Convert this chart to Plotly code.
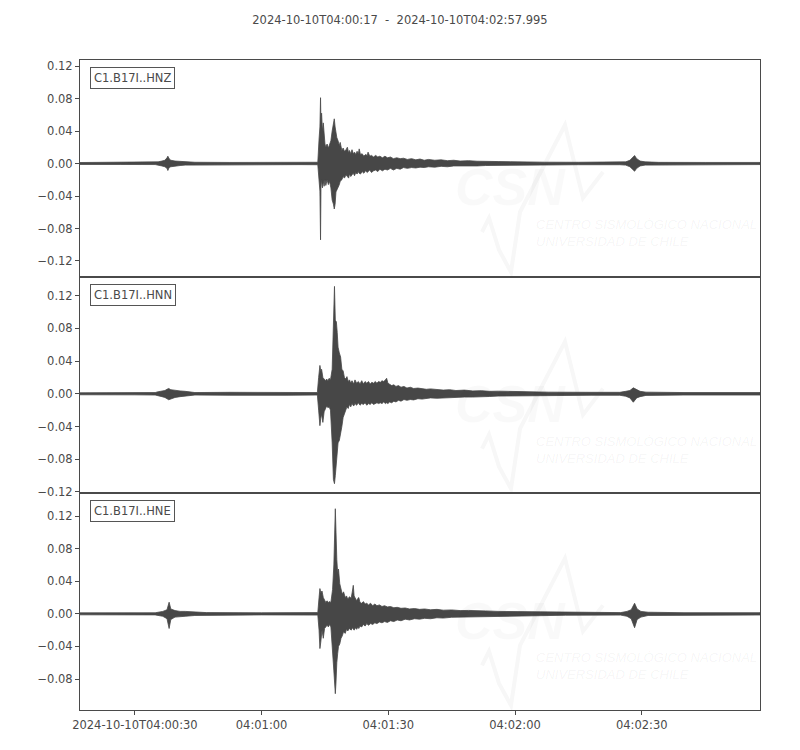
import pandas as pd
import plotly.graph_objects as go
from plotly.subplots import make_subplots

# ---- data (seconds after 2024-10-10T04:00:00, upper / lower envelope of each trace) ----
channels = ["C1.B17I..HNZ", "C1.B17I..HNN", "C1.B17I..HNE"]

t_hnz = [17.0, 26.5, 34.8, 35.5, 36.4, 37.1, 37.6, 37.8, 38.1, 38.5, 39.5, 40.7, 41.9, 44.2, 52.5, 59.6,
         69.1, 73.3, 73.6, 73.8, 73.95, 74.05, 74.2, 74.4, 74.6, 74.8, 75.0, 75.2, 75.5, 75.8, 76.1, 76.4,
         76.7, 77.0, 77.2, 77.4, 77.6, 77.8, 78.1, 78.4, 78.6, 79.0, 79.3, 79.6, 80.0, 80.3, 80.6, 80.8,
         81.1, 81.4, 81.7, 82.0, 82.3, 82.6, 82.9, 83.1, 83.4, 83.8, 84.2, 84.6, 85.0, 85.2, 85.6, 86.0,
         86.5, 87.0, 87.5, 88.0, 88.6, 89.2, 89.8, 90.5, 91.2, 92.0, 92.8, 93.6, 94.5, 95.5, 96.5, 97.5,
         98.5, 99.5, 101.0, 102.5, 104.0, 105.5, 107.0, 109.0, 111.0, 113.0, 116.0, 119.0, 122.0, 127.0,
         135.0, 144.8, 146.2, 147.2, 147.9, 148.3, 148.8, 149.6, 150.8, 154.0, 165.0, 177.995]
up_hnz = [0.0012, 0.0013, 0.0013, 0.002, 0.003, 0.004, 0.007, 0.009, 0.006, 0.004, 0.003, 0.0025, 0.002, 0.0015, 0.0013, 0.0013,
          0.0014, 0.0015, 0.03, 0.045, 0.081, 0.05, 0.062, 0.04, 0.05, 0.03, 0.024, 0.02, 0.024, 0.019, 0.023, 0.028,
          0.04, 0.05, 0.055, 0.045, 0.038, 0.032, 0.028, 0.022, 0.026, 0.016, 0.019, 0.015, 0.017, 0.020, 0.013, 0.016,
          0.012, 0.017, 0.012, 0.014, 0.011, 0.015, 0.012, 0.018, 0.011, 0.012, 0.009, 0.011, 0.010, 0.014, 0.009, 0.010,
          0.008, 0.010, 0.008, 0.009, 0.007, 0.009, 0.007, 0.008, 0.006, 0.007, 0.006, 0.0065, 0.005, 0.006, 0.0045, 0.0055,
          0.004, 0.005, 0.004, 0.0045, 0.0035, 0.004, 0.003, 0.0035, 0.0028, 0.003, 0.0024, 0.0022, 0.0018, 0.0016,
          0.0015, 0.0015, 0.002, 0.004, 0.007, 0.0098, 0.006, 0.003, 0.002, 0.0014, 0.0013, 0.0013]
lo_hnz = [-0.0012, -0.0012, -0.0013, -0.002, -0.003, -0.004, -0.006, -0.0086, -0.005, -0.004, -0.003, -0.0025, -0.002, -0.0015, -0.0013, -0.0013,
          -0.0014, -0.0015, -0.02, -0.034, -0.094, -0.03, -0.02, -0.03, -0.022, -0.028, -0.02, -0.027, -0.02, -0.026, -0.022, -0.03,
          -0.045, -0.05, -0.056, -0.05, -0.035, -0.034, -0.03, -0.026, -0.022, -0.02, -0.016, -0.018, -0.014, -0.016, -0.018, -0.013,
          -0.016, -0.014, -0.012, -0.015, -0.011, -0.013, -0.010, -0.012, -0.013, -0.010, -0.012, -0.009, -0.011, -0.010, -0.008, -0.011,
          -0.009, -0.008, -0.010, -0.007, -0.009, -0.007, -0.008, -0.006, -0.008, -0.006, -0.007, -0.005, -0.006, -0.005, -0.0055, -0.0045,
          -0.005, -0.004, -0.0045, -0.0035, -0.004, -0.003, -0.0035, -0.0028, -0.003, -0.0025, -0.0026, -0.002, -0.002, -0.0016,
          -0.0015, -0.0015, -0.002, -0.004, -0.007, -0.0095, -0.006, -0.003, -0.002, -0.0014, -0.0013, -0.0013]

t_hnn = [17.0, 30.0, 34.8, 35.5, 36.4, 37.1, 37.6, 38.0, 38.5, 39.5, 40.7, 41.9, 43.0, 44.2, 52.5, 59.6,
         66.0, 73.2, 73.5, 73.8, 74.0, 74.2, 74.5, 74.8, 75.1, 75.4, 75.7, 76.0, 76.3, 76.7, 77.0, 77.25,
         77.45, 77.7, 77.9, 78.1, 78.4, 78.7, 79.0, 79.3, 79.6, 79.9, 80.2, 80.5, 80.8, 81.1, 81.4, 81.8,
         82.1, 82.5, 82.9, 83.3, 83.7, 84.1, 84.5, 84.9, 85.3, 85.7, 86.1, 86.5, 86.9, 87.3, 87.7, 88.1,
         88.5, 88.9, 89.3, 89.6, 89.9, 90.3, 90.8, 91.3, 91.8, 92.4, 93.0, 93.7, 94.4, 95.2, 96.0, 97.0,
         98.0, 99.0, 100.0, 101.5, 103.0, 104.5, 106.0, 108.0, 110.0, 112.0, 114.0, 116.0, 119.0, 122.0,
         128.0, 138.0, 144.8, 146.2, 147.2, 148.0, 148.8, 149.6, 151.0, 160.0, 177.995]
up_hnn = [0.0012, 0.0013, 0.0015, 0.0025, 0.0035, 0.004, 0.0055, 0.0065, 0.005, 0.004, 0.0035, 0.003, 0.002, 0.0015, 0.0018, 0.002,
          0.0018, 0.0015, 0.02, 0.0347, 0.028, 0.03, 0.02, 0.018, 0.016, 0.018, 0.016, 0.019, 0.017, 0.03, 0.09, 0.1314,
          0.09, 0.088, 0.075, 0.057, 0.05, 0.045, 0.03, 0.028, 0.02, 0.018, 0.021, 0.015, 0.017, 0.013, 0.016, 0.012,
          0.017, 0.013, 0.015, 0.012, 0.016, 0.012, 0.015, 0.013, 0.015, 0.012, 0.014, 0.013, 0.015, 0.013, 0.015, 0.014,
          0.016, 0.015, 0.017, 0.019, 0.013, 0.012, 0.010, 0.011, 0.009, 0.010, 0.008, 0.009, 0.007, 0.008, 0.0065, 0.007,
          0.006, 0.0055, 0.006, 0.005, 0.0045, 0.005, 0.004, 0.0045, 0.0035, 0.0038, 0.003, 0.0032, 0.0027, 0.0024,
          0.002, 0.0018, 0.0018, 0.003, 0.004, 0.0073, 0.005, 0.003, 0.002, 0.0015, 0.0015]
lo_hnn = [-0.0012, -0.0013, -0.0015, -0.0025, -0.0035, -0.0045, -0.006, -0.0073, -0.006, -0.0045, -0.0035, -0.003, -0.002, -0.0015, -0.0018, -0.002,
          -0.0018, -0.0015, -0.02, -0.039, -0.03, -0.025, -0.035, -0.022, -0.018, -0.015, -0.017, -0.016, -0.02, -0.06, -0.105, -0.11,
          -0.1, -0.09, -0.075, -0.06, -0.057, -0.05, -0.04, -0.029, -0.025, -0.02, -0.016, -0.018, -0.013, -0.016, -0.012, -0.015,
          -0.012, -0.014, -0.011, -0.014, -0.012, -0.013, -0.011, -0.014, -0.012, -0.013, -0.011, -0.013, -0.012, -0.011, -0.012, -0.011,
          -0.012, -0.010, -0.012, -0.011, -0.012, -0.010, -0.011, -0.009, -0.010, -0.008, -0.009, -0.007, -0.008, -0.007, -0.0075, -0.006,
          -0.0065, -0.006, -0.005, -0.0055, -0.005, -0.0045, -0.0045, -0.004, -0.004, -0.0032, -0.0033, -0.0028, -0.0027, -0.0025,
          -0.002, -0.0018, -0.0018, -0.003, -0.005, -0.0103, -0.005, -0.0035, -0.002, -0.0015, -0.0015]

t_hne = [17.0, 34.8, 36.6, 37.6, 38.1, 38.5, 39.5, 40.7, 41.9, 44.2, 47.0, 60.0, 73.3, 73.6, 73.8, 74.0,
         74.3, 74.6, 74.9, 75.2, 75.5, 75.8, 76.1, 76.4, 76.8, 77.1, 77.45, 77.6, 77.8, 78.0, 78.2, 78.5,
         78.8, 79.1, 79.4, 79.8, 80.1, 80.4, 80.8, 81.2, 81.5, 81.7, 81.9, 82.2, 82.5, 82.8, 83.0, 83.3,
         83.7, 84.1, 84.5, 84.9, 85.3, 85.8, 86.3, 86.8, 87.3, 87.9, 88.5, 89.1, 89.8, 90.5, 91.3, 92.1,
         93.0, 94.0, 95.0, 96.2, 97.4, 98.6, 100.0, 101.5, 103.0, 105.0, 107.0, 109.0, 111.0, 113.0, 116.0,
         119.0, 124.0, 132.0, 145.0, 146.5, 147.5, 148.3, 148.9, 149.8, 151.5, 160.0, 177.995]
up_hne = [0.0012, 0.0013, 0.003, 0.005, 0.0143, 0.006, 0.004, 0.003, 0.003, 0.002, 0.0015, 0.0013, 0.0015, 0.02, 0.031, 0.026,
          0.028, 0.02, 0.016, 0.014, 0.016, 0.014, 0.015, 0.014, 0.03, 0.06, 0.129, 0.08, 0.067, 0.05, 0.055, 0.037,
          0.03, 0.024, 0.027, 0.02, 0.022, 0.018, 0.021, 0.019, 0.028, 0.035, 0.022, 0.018, 0.016, 0.019, 0.02, 0.014,
          0.013, 0.015, 0.012, 0.013, 0.011, 0.013, 0.010, 0.012, 0.010, 0.011, 0.009, 0.010, 0.0085, 0.009, 0.0075, 0.008,
          0.0068, 0.0072, 0.006, 0.0065, 0.0055, 0.006, 0.005, 0.0055, 0.0045, 0.0048, 0.004, 0.0042, 0.0035, 0.0036, 0.003,
          0.0028, 0.0022, 0.0017, 0.0015, 0.003, 0.005, 0.013, 0.006, 0.003, 0.002, 0.0014, 0.0014]
lo_hne = [-0.0012, -0.0013, -0.003, -0.006, -0.018, -0.007, -0.004, -0.0035, -0.003, -0.002, -0.0015, -0.0013, -0.0015, -0.02, -0.0426, -0.035,
          -0.02, -0.03, -0.018, -0.016, -0.014, -0.016, -0.013, -0.016, -0.05, -0.07, -0.098, -0.085, -0.06, -0.049, -0.04, -0.037,
          -0.03, -0.027, -0.022, -0.024, -0.019, -0.021, -0.018, -0.02, -0.017, -0.019, -0.02, -0.017, -0.019, -0.016, -0.018, -0.015,
          -0.016, -0.013, -0.015, -0.012, -0.014, -0.012, -0.013, -0.011, -0.012, -0.010, -0.011, -0.0095, -0.0105, -0.0085, -0.0095, -0.0075,
          -0.0085, -0.0065, -0.0075, -0.006, -0.0065, -0.0055, -0.006, -0.0048, -0.0052, -0.0042, -0.0045, -0.0037, -0.004, -0.0032, -0.0033,
          -0.0027, -0.0023, -0.0017, -0.0015, -0.003, -0.006, -0.017, -0.007, -0.004, -0.002, -0.0014, -0.0014]

tick_seconds = [30, 60, 90, 120, 150]
tick_labels = ["2024-10-10T04:00:30", "04:01:00", "04:01:30", "04:02:00", "04:02:30"]
title_text = "2024-10-10T04:00:17  -  2024-10-10T04:02:57.995"

# ---- figure ----
base = pd.Timestamp("2024-10-10 04:00:00")


def to_dates(secs):
    return [(base + pd.to_timedelta(s, unit="s")).strftime("%Y-%m-%d %H:%M:%S.%f")[:-3] for s in secs]


traces = [(t_hnz, up_hnz, lo_hnz), (t_hnn, up_hnn, lo_hnn), (t_hne, up_hne, lo_hne)]
yranges = [[-0.1393, 0.1274], [-0.1218, 0.1433], [-0.1180, 0.1479]]

wave = "#474747"
ink = "#4a4a4a"
font = "DejaVu Sans"
wm = "rgba(0,0,0,0.025)"
wm_text = "rgba(0,0,0,0.05)"

# page body has an 8px margin, so the figure is sized/margined to land the plot area at the reference pixels
W, H = 792, 742
L, R, T, B = 72, 40, 52, 40
PW, PH = W - L - R, H - T - B

fig = make_subplots(rows=3, cols=1, shared_xaxes=True, vertical_spacing=0)

# faint logo zigzag, behind data (figure-pixel coordinates converted to paper)
for i in range(3):
    off = i * PH / 3
    pts = [(474, 224), (481, 210), (491, 242), (503, 264), (512, 204), (557, 117), (575, 190), (595, 164)]
    path = "M " + " L ".join(f"{(px - L) / PW:.4f},{(H - B - (py + off)) / PH:.4f}" for px, py in pts)
    fig.add_shape(type="path", path=path, xref="paper", yref="paper",
                  line=dict(color="rgb(247,247,247)", width=4), layer="below")

for i, (t, up, lo) in enumerate(traces):
    d = to_dates(t)
    fig.add_trace(go.Scatter(x=d + d[::-1], y=up + lo[::-1], mode="lines", fill="toself",
                             fillcolor=wave, line=dict(color=wave, width=0.8),
                             showlegend=False, hoverinfo="skip"), row=i + 1, col=1)

xr = [to_dates([17.0])[0], to_dates([177.995])[0]]
tickvals = to_dates(tick_seconds)

for i in range(3):
    ax = "" if i == 0 else str(i + 1)
    fig.update_yaxes(range=yranges[i], tick0=0, dtick=0.04, tickformat=".2f",
                     showline=True, mirror=True, linecolor=ink, linewidth=1,
                     ticks="outside", ticklen=4, tickcolor=ink, showgrid=False, zeroline=False,
                     tickfont=dict(family=font, size=11.5, color=ink), row=i + 1, col=1)
    fig.update_xaxes(range=xr, type="date", showline=True, mirror=True, linecolor=ink, linewidth=1,
                     showgrid=False, zeroline=False, tickvals=tickvals, ticktext=tick_labels,
                     ticks="outside" if i == 2 else "", ticklen=4, tickcolor=ink,
                     showticklabels=(i == 2),
                     tickfont=dict(family=font, size=11.5, color=ink), row=i + 1, col=1)

    xd = "x" + ax + " domain"
    yd = "y" + ax + " domain"
    # faint watermark text
    fig.add_annotation(x=0.549, y=0.555, xref=xd, yref=yd, xanchor="left", yanchor="top",
                       text="<b><i>CSN</i></b>", showarrow=False,
                       font=dict(family="Liberation Sans", size=52, color=wm))
    fig.add_annotation(x=0.668, y=0.285, xref=xd, yref=yd, xanchor="left", yanchor="top",
                       text="<i>CENTRO SISMOLÓGICO NACIONAL</i><br><i>UNIVERSIDAD DE CHILE</i>",
                       align="left", showarrow=False,
                       font=dict(family="Liberation Sans Narrow, Liberation Sans", size=13, color=wm_text))
    # channel label
    fig.add_annotation(x=0.0147, y=0.968, xref=xd, yref=yd, xanchor="left", yanchor="top",
                       text=channels[i], showarrow=False,
                       font=dict(family=font, size=11.5, color=ink),
                       bordercolor="#555555", borderwidth=1, borderpad=3, bgcolor="white")

fig.update_layout(
    width=W, height=H,
    margin=dict(l=L, r=R, t=T, b=B),
    paper_bgcolor="white", plot_bgcolor="rgba(0,0,0,0)",
    title=dict(text=title_text, x=(400 - 8) / W, xanchor="center", y=1 - 12 / H, yanchor="middle",
               font=dict(family=font, size=11.5, color=ink)),
    showlegend=False,
)

fig.write_html("out.html")
